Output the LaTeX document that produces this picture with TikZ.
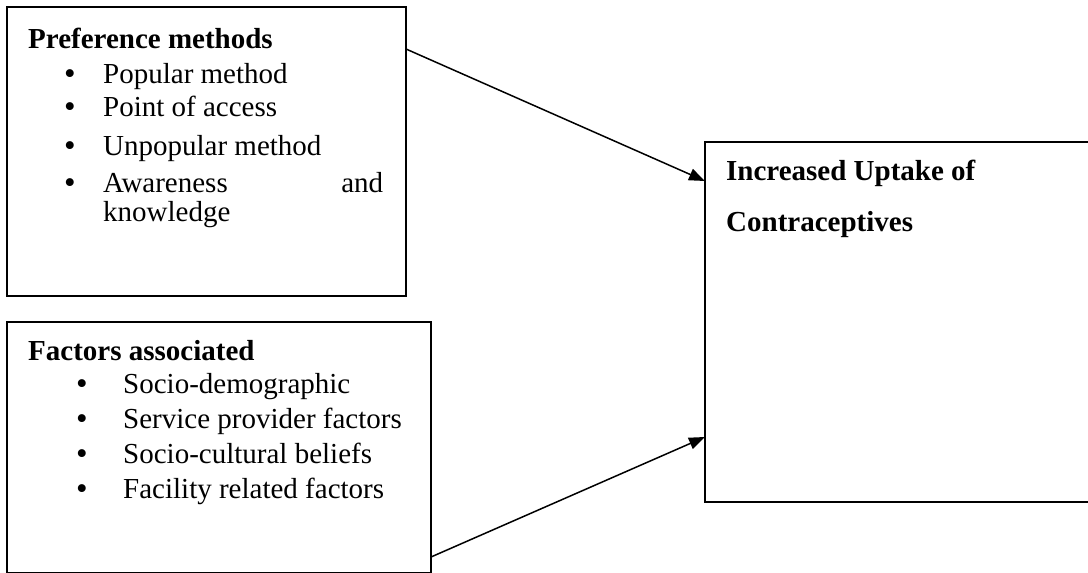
\documentclass[tikz,border=0pt]{standalone}
\usepackage{fontspec}
\setmainfont{Liberation Serif}
\usetikzlibrary{arrows.meta}
\begin{document}
\begin{tikzpicture}[x=1pt,y=-1pt,
  box/.style={draw, line width=2.2pt, inner sep=0pt, outer sep=0pt, rectangle},
  lbl/.style={anchor=base west, inner sep=0pt, font=\fontsize{29}{33}\selectfont},
  ttl/.style={anchor=base west, inner sep=0pt, font=\fontsize{29}{33}\selectfont\bfseries},
  bul/.style={anchor=base, inner sep=0pt, font=\fontsize{33}{33}\selectfont},
  arr/.style={line width=1.5pt, -{Triangle[length=16pt,width=12pt]}}]
\useasboundingbox (0,0) rectangle (1088,573);
% boxes
\node[box, minimum width=399pt, minimum height=289pt] (pref) at (206.5,151.5) {};
\node[box, minimum width=424pt, minimum height=251pt] (fact) at (219,447.5) {};
\node[box, minimum width=400pt, minimum height=360pt] (upt) at (905,322) {};
% box 1 text
\node[ttl] (t1) at (28,48) {Preference methods};
\node[bul] (b11) at (70,84) {\textbullet};
\node[lbl] (i11) at (103,83) {Popular method};
\node[bul] (b12) at (70,117) {\textbullet};
\node[lbl] (i12) at (103,116) {Point of access};
\node[bul] (b13) at (70,156) {\textbullet};
\node[lbl] (i13) at (103,155) {Unpopular method};
\node[bul] (b14) at (70,193) {\textbullet};
\node[lbl] (i14) at (103,192) {\makebox[280pt]{Awareness\hfill and}};
\node[lbl] (i15) at (103,221) {knowledge};
% box 2 text
\node[ttl] (t2) at (28,360) {Factors associated};
\node[bul] (b21) at (82,394) {\textbullet};
\node[lbl] (i21) at (123,393) {Socio-demographic};
\node[bul] (b22) at (82,429) {\textbullet};
\node[lbl] (i22) at (123,428) {Service provider factors};
\node[bul] (b23) at (82,464) {\textbullet};
\node[lbl] (i23) at (123,463) {Socio-cultural beliefs};
\node[bul] (b24) at (82,499) {\textbullet};
\node[lbl] (i24) at (123,498) {Facility related factors};
% box 3 text
\node[ttl] (t3) at (726,180) {Increased Uptake of};
\node[ttl] (t4) at (726,231) {Contraceptives};
% connectors
\coordinate (a1s) at (406,49);
\coordinate (a1e) at (705,181);
\coordinate (a2s) at (431,557);
\coordinate (a2e) at (705,437);
\draw[arr] (a1s) -- (a1e);
\draw[arr] (a2s) -- (a2e);
\end{tikzpicture}
\end{document}
